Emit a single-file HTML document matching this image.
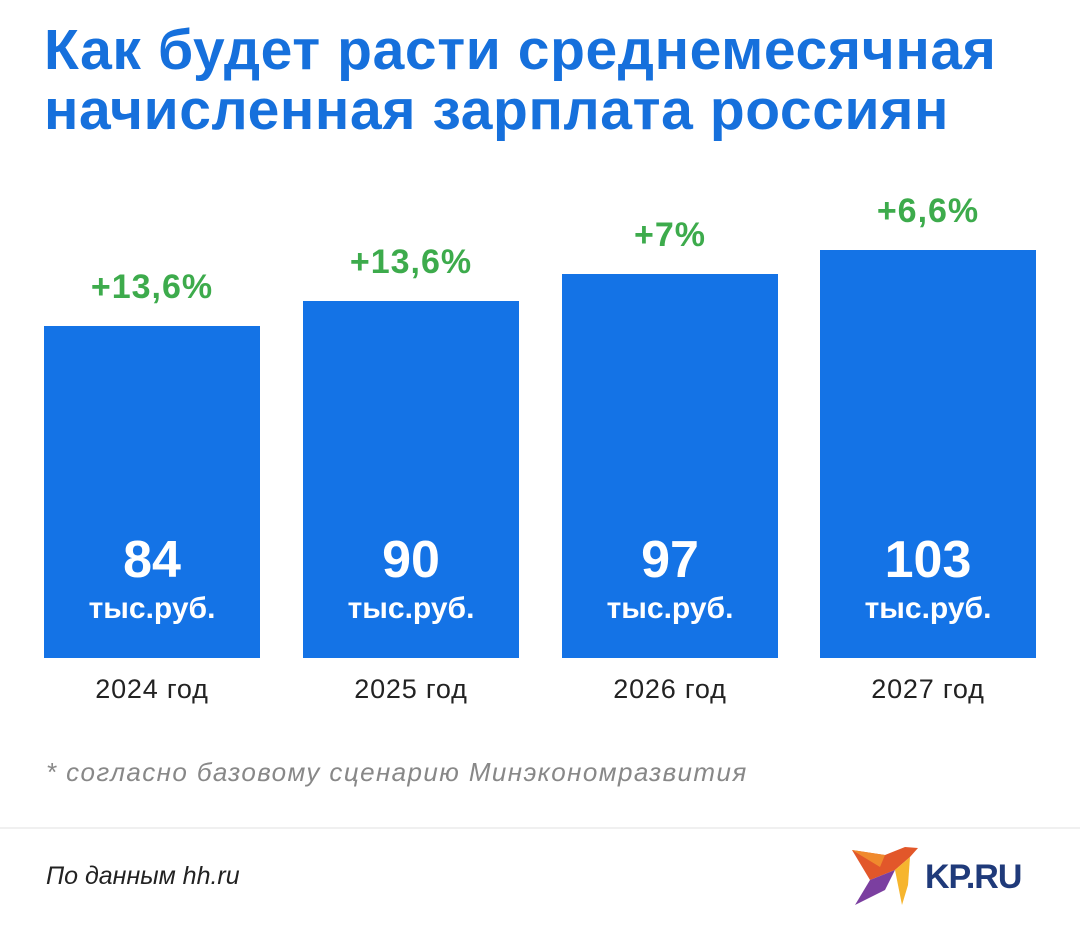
<!DOCTYPE html>
<html><head><meta charset="utf-8"><style>
body{margin:0;width:1080px;height:931px;background:#fff;position:relative;overflow:hidden;font-family:"Liberation Sans","DejaVu Sans",sans-serif}
.t{position:absolute;left:44px;top:20px;color:#1670dc;font-weight:bold;font-size:57px;line-height:60px;letter-spacing:0.6px;white-space:nowrap}
.bar{position:absolute;background:#1473e6;width:216px;bottom:273px}
.pct{position:absolute;width:216px;text-align:center;color:#3dab4c;font-size:34px;font-weight:bold;letter-spacing:1px}
.v{position:absolute;width:216px;text-align:center;color:#fff;font-weight:bold}
.yr{position:absolute;width:216px;text-align:center;color:#222;font-size:27px;letter-spacing:0.8px;top:674px}
</style></head><body>
<div class="t">Как будет расти среднемесячная<br>начисленная зарплата россиян</div>
<div class="pct" style="left:44px;top:268px">+13,6%</div>
<div class="pct" style="left:303px;top:243px">+13,6%</div>
<div class="pct" style="left:562px;top:216px">+7%</div>
<div class="pct" style="left:820px;top:192px">+6,6%</div>
<div class="bar" style="left:44px;top:326px"></div>
<div class="bar" style="left:303px;top:301px"></div>
<div class="bar" style="left:562px;top:274px"></div>
<div class="bar" style="left:820px;top:250px"></div>
<div class="v" style="left:44px;top:530px;font-size:52px">84</div>
<div class="v" style="left:303px;top:530px;font-size:52px">90</div>
<div class="v" style="left:562px;top:530px;font-size:52px">97</div>
<div class="v" style="left:820px;top:530px;font-size:52px">103</div>
<div class="v" style="left:44px;top:592px;font-size:30px">тыс.руб.</div>
<div class="v" style="left:303px;top:592px;font-size:30px">тыс.руб.</div>
<div class="v" style="left:562px;top:592px;font-size:30px">тыс.руб.</div>
<div class="v" style="left:820px;top:592px;font-size:30px">тыс.руб.</div>
<div class="yr" style="left:44px">2024 год</div>
<div class="yr" style="left:303px">2025 год</div>
<div class="yr" style="left:562px">2026 год</div>
<div class="yr" style="left:820px">2027 год</div>
<div style="position:absolute;left:46px;top:757px;font-size:26px;letter-spacing:1.4px;font-style:italic;color:#888;white-space:nowrap">* согласно базовому сценарию Минэкономразвития</div>
<div style="position:absolute;left:0;right:0;top:827px;height:2px;background:#f0f0f0"></div>
<div style="position:absolute;left:46px;top:862px;font-size:25px;font-style:italic;color:#222">По данным hh.ru</div>
<svg style="position:absolute;left:850px;top:845px" width="70" height="70" viewBox="0 0 70 70">
<polygon points="2,5 35,10 55,2 68,3 60,12 45,25 20,35" fill="#e2572a"/>
<polygon points="20,35 45,25 35,45 5,60" fill="#7b3fa0"/>
<polygon points="45,25 60,12 58,40 52,60" fill="#f6b52e"/>
<polygon points="2,5 35,10 30,22" fill="#f08a2d"/>
</svg>
<div style="position:absolute;left:925px;top:858px;font-size:34px;font-weight:900;color:#1f3a7a;letter-spacing:-1px">KP.RU</div>
</body></html>
